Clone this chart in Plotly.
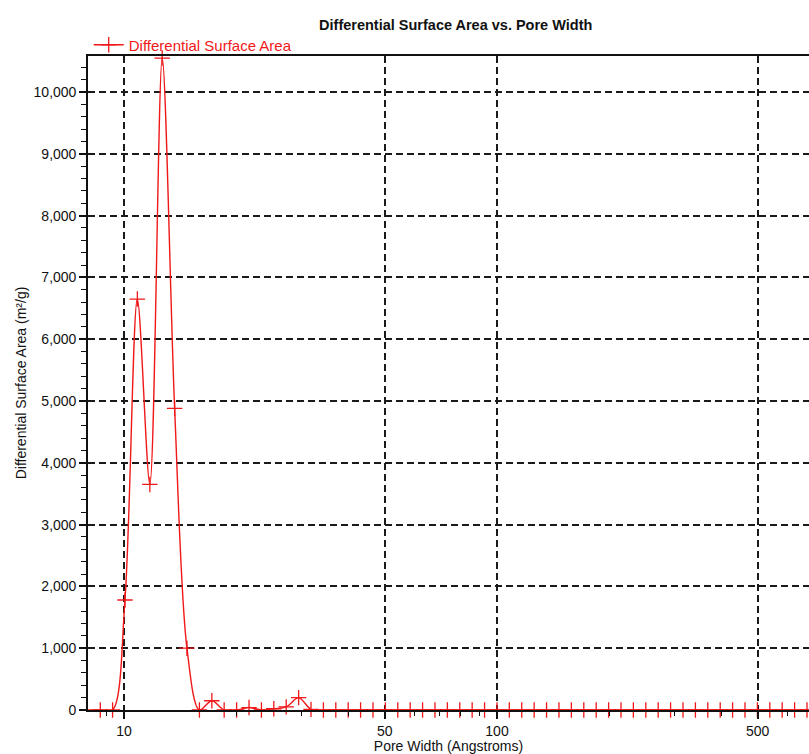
import plotly.graph_objects as go

# Pore width (Angstroms)
pore_width = [8.0, 8.64, 9.32, 10.06, 10.86, 11.73, 12.66, 13.67, 14.75, 15.93,
              17.20, 18.56, 20.04, 21.64, 23.36, 25.21, 27.22, 29.39, 31.72, 34.25,
              36.97, 39.91, 43.08, 46.51, 50.21, 54.20, 58.52, 63.17, 68.19, 73.62,
              79.47, 85.79, 92.62, 100.0, 107.9, 116.5, 125.8, 135.8, 146.6, 158.3,
              170.9, 184.5, 199.2, 215.0, 232.1, 250.6, 270.5, 292.0, 315.3, 340.4,
              367.4, 396.7, 428.2, 462.3, 499.1, 538.8, 581.6, 627.9, 677.8, 731.7]
# Differential surface area (m²/g)
diff_area = [0, 0, 0, 1780, 6650, 3650, 10550, 4880, 1000, 0,
             150, 0, 0, 40, 0, 20, 50, 200, 10, 0,
             0, 0, 0, 0, 0, 0, 0, 0, 0, 0,
             0, 0, 0, 0, 0, 0, 0, 0, 0, 0,
             0, 0, 0, 0, 0, 0, 0, 0, 0, 0,
             0, 0, 0, 0, 0, 0, 0, 0, 0, 0]

x_tick_vals = [10, 50, 100, 500]
x_tick_text = ["10", "50", "100", "500"]
x_minor_vals = [9, 20, 30, 40, 60, 70, 80, 90, 200, 300, 400, 600, 700]

RED = "#f01818"
INK = "#111111"
FONT = "Liberation Sans, Arial, sans-serif"

fig = go.Figure()
fig.add_trace(go.Scatter(
    x=pore_width, y=diff_area, mode="lines+markers",
    name="Differential Surface Area",
    line=dict(color=RED, width=1.4, shape="spline", smoothing=0.9),
    marker=dict(symbol="cross-thin", size=11, line=dict(color=RED, width=1.3), color=RED),
    cliponaxis=False,
))

fig.update_layout(
    width=809, height=754,
    margin=dict(l=88, r=0, t=56, b=44),
    paper_bgcolor="white", plot_bgcolor="white",
    font=dict(family=FONT, size=14, color=INK),
    title=dict(text="<b>Differential Surface Area vs. Pore Width</b>",
               x=0.51, xref="paper", xanchor="center",
               y=1 - 25 / 754, yref="container", yanchor="middle",
               font=dict(size=14.5, color=INK, family=FONT)),
    showlegend=True,
    legend=dict(x=0.001, y=1 + 11 / 654, xref="paper", yref="paper",
                xanchor="left", yanchor="middle",
                bgcolor="rgba(0,0,0,0)", font=dict(color=RED, size=15, family=FONT),
                itemwidth=30, tracegroupgap=0,
                borderwidth=0),
)

grid = dict(gridcolor="#1a1a1a", gridwidth=1.6, griddash="7px,4px")

fig.update_xaxes(
    type="log", range=[0.9035, 2.8365],
    tickmode="array", tickvals=x_tick_vals, ticktext=x_tick_text,
    ticks="outside", ticklen=7, tickwidth=1.6, tickcolor=INK,
    showline=True, linecolor=INK, linewidth=1.6, mirror=True,
    showgrid=True, **grid, zeroline=False,
    minor=dict(tickmode="array", tickvals=x_minor_vals, ticks="outside",
               ticklen=4, tickwidth=1.3, tickcolor=INK, showgrid=False),
    title=dict(text="Pore Width (Angstroms)", font=dict(size=14, family=FONT, color=INK),
               standoff=0),
    tickfont=dict(size=14, color=INK),
)

fig.update_yaxes(
    range=[0, 10583], tickmode="linear", tick0=0, dtick=1000, tickformat=",",
    ticks="outside", ticklen=7, tickwidth=1.6, tickcolor=INK,
    showline=True, linecolor=INK, linewidth=1.6, mirror=False,
    showgrid=True, **grid, zeroline=False,
    minor=dict(dtick=200, ticks="outside", ticklen=5, tickwidth=1.3,
               tickcolor=INK, showgrid=False),
    title=dict(text="Differential Surface Area (m²/g)", font=dict(size=14, family=FONT, color=INK),
               standoff=4),
    tickfont=dict(size=14, color=INK),
)

fig.write_html("out.html")
